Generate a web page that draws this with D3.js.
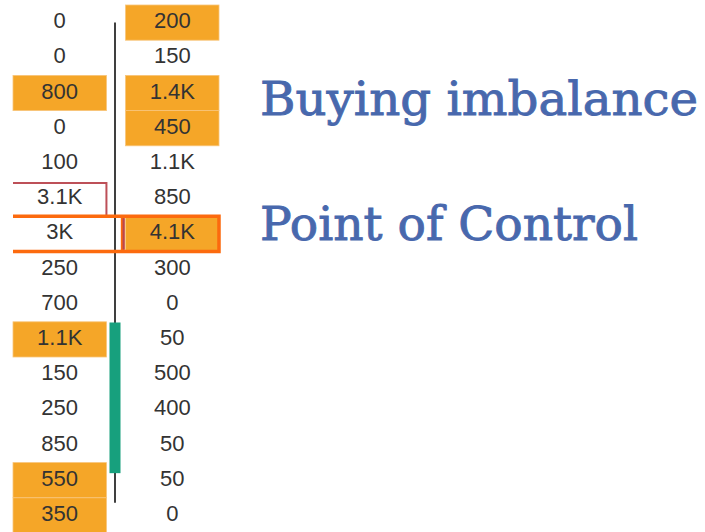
<!DOCTYPE html>
<html>
<head>
<meta charset="utf-8">
<script src="https://cdn.jsdelivr.net/npm/d3@7"></script>
<style>
  body { margin: 0; background: #fff; }
  svg { display: block; }
</style>
</head>
<body>
<svg id="chart" width="705" height="532"></svg>
<script>
// price levels, top to bottom (one row each)
var priceLevels = [2814.00, 2813.75, 2813.50, 2813.25, 2813.00, 2812.75, 2812.50, 2812.25,
                   2812.00, 2811.75, 2811.50, 2811.25, 2811.00, 2810.75, 2810.50];
// volume traded at the bid (left) and at the ask (right)
var bidVolume = [0, 0, 800, 0, 100, 3100, 3000, 250, 700, 1100, 150, 250, 850, 550, 350];
var askVolume = [200, 150, 1400, 450, 1100, 850, 4100, 300, 0, 50, 500, 400, 50, 50, 0];
// candle (prices)
var candleHigh = 2814.00, candleClose = 2811.87, candleOpen = 2810.80, candleLow = 2810.59;
var labels = ["Buying imbalance", "Point of Control"];
var IMBALANCE_RATIO = 4;

var ROW_H = 35.2;

var svg = d3.select("#chart");

var y = d3.scaleLinear()
    .domain([priceLevels[0], priceLevels[priceLevels.length - 1]])
    .range([22.6, 22.6 + ROW_H * (priceLevels.length - 1)]);

var x = d3.scaleBand()
    .domain(["bid", "ask"])
    .range([13, 219])
    .paddingInner(0.17);

var fmt = function(v) {
  if (v >= 1000) return (Math.round(v / 100) / 10) + "K";
  return String(v);
};

// diagonal imbalance: ask at level i vs bid at level i+1, bid at level i vs ask at i-1
var rows = priceLevels.map(function(p, i) {
  var bid = bidVolume[i], ask = askVolume[i];
  var bidBelow = i + 1 < bidVolume.length ? bidVolume[i + 1] : 0;
  var askAbove = i > 0 ? askVolume[i - 1] : 0;
  return {
    price: p,
    bid: bid,
    ask: ask,
    bidImb: bid > 0 && bid >= IMBALANCE_RATIO * askAbove,
    askImb: ask > 0 && ask >= IMBALANCE_RATIO * bidBelow
  };
});

var pocIndex = d3.maxIndex(rows, function(d) { return d.bid + d.ask; });

var cells = [];
rows.forEach(function(d, i) {
  cells.push({side: "bid", price: d.price, value: d.bid, hot: d.bidImb, i: i});
  cells.push({side: "ask", price: d.price, value: d.ask, hot: d.askImb, i: i});
});

var g = svg.append("g");

// imbalance highlights
g.selectAll("rect.hot")
  .data(cells.filter(function(c) { return c.hot; }))
  .enter().append("rect")
    .attr("class", "hot")
    .attr("x", function(c) { return x(c.side); })
    .attr("y", function(c) { return y(c.price) - ROW_H / 2; })
    .attr("width", x.bandwidth())
    .attr("height", ROW_H)
    .attr("fill", "#f5a628")
    .attr("stroke", "#f8c57a")
    .attr("stroke-width", 0.8);

// candle wick + body
var cx = x("bid") + x.bandwidth() + (x.step() - x.bandwidth()) / 2 - 1;
g.append("line")
  .attr("x1", cx).attr("x2", cx)
  .attr("y1", y(candleHigh)).attr("y2", y(candleLow))
  .attr("stroke", "#2b2b2b")
  .attr("stroke-width", 1.8);

g.append("rect")
  .attr("x", cx - 5.5)
  .attr("y", y(candleClose))
  .attr("width", 11)
  .attr("height", y(candleOpen) - y(candleClose))
  .attr("fill", "#17a07d");

// red outline: strong bid cell stepping down to the POC ask cell
var r5 = rows[pocIndex - 1];
var redTop = y(r5.price) - ROW_H / 2 + 2;
var redMid = y(r5.price) + ROW_H / 2;
var xr = x("bid") + x.bandwidth();
var xa = x("ask") - 2;
g.append("path")
  .attr("d", "M" + x("bid") + "," + redTop + "H" + xr + "V" + redMid + "H" + xa + "V" + (redMid + ROW_H))
  .attr("fill", "none")
  .attr("stroke", "#bd5058")
  .attr("stroke-width", 2);

// point of control
var pocTop = y(rows[pocIndex].price) - ROW_H / 2;
var pocBot = pocTop + ROW_H;
var xEnd = x("ask") + x.bandwidth();
g.append("path")
  .attr("d", "M" + x("bid") + "," + pocTop + "H" + xEnd + "V" + pocBot + "H" + x("bid") +
             "M" + (x("ask") - 3) + "," + pocTop + "V" + pocBot)
  .attr("fill", "none")
  .attr("stroke", "#fc6a0e")
  .attr("stroke-width", 3.5);

// redraw the red step over the orange at the ask cell's left edge
g.append("line")
  .attr("x1", xa).attr("x2", xa)
  .attr("y1", pocTop + 2).attr("y2", pocBot - 2)
  .attr("stroke", "#b8474f")
  .attr("stroke-width", 2);

// volume numbers
g.selectAll("text.vol")
  .data(cells)
  .enter().append("text")
    .attr("class", "vol")
    .attr("x", function(c) { return x(c.side) + x.bandwidth() / 2; })
    .attr("y", function(c) { return y(c.price) + 5.5; })
    .attr("text-anchor", "middle")
    .style("font", "22px 'Liberation Sans', Arial, sans-serif")
    .style("fill", "#333")
    .text(function(c) { return fmt(c.value); });

// annotations
var labelY = [115, 240];
var labelW = [438, 378];
svg.selectAll("text.label")
  .data(labels)
  .enter().append("text")
    .attr("class", "label")
    .attr("x", 260)
    .attr("y", function(d, i) { return labelY[i]; })
    .attr("textLength", function(d, i) { return labelW[i]; })
    .attr("lengthAdjust", "spacingAndGlyphs")
    .style("font", "47px 'DejaVu Serif', serif")
    .style("fill", "#4868ad")
    .style("stroke", "#4868ad")
    .style("stroke-width", 0.9)
    .text(function(d) { return d; });
</script>
</body>
</html>
